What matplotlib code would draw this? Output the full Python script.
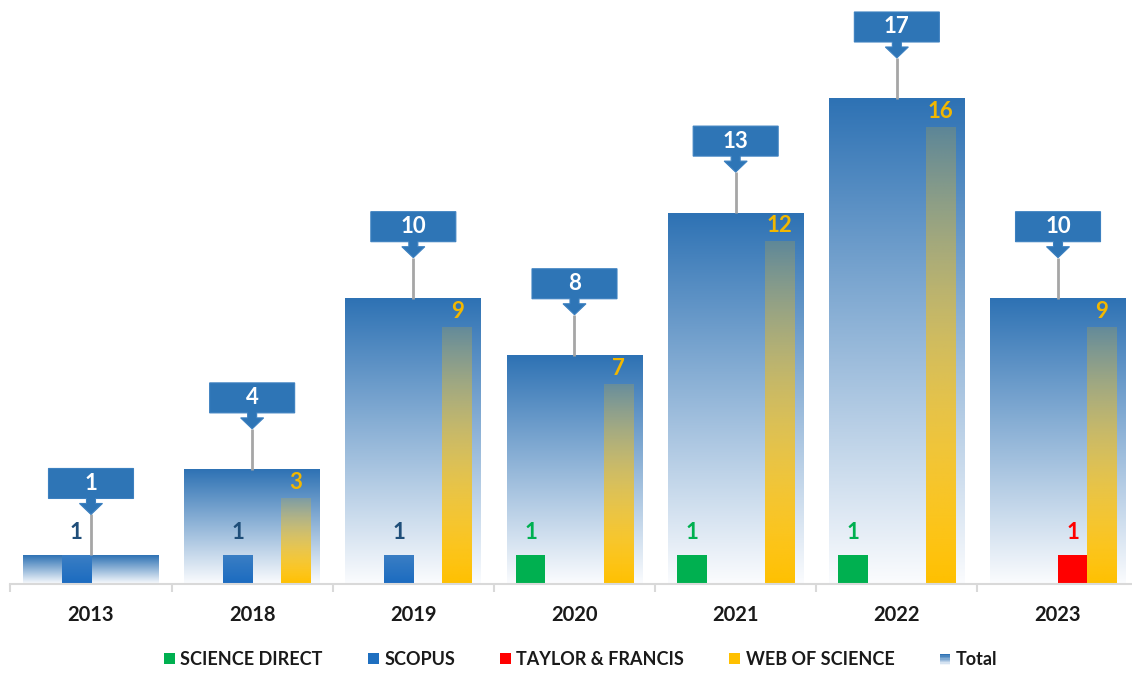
import numpy as np
import matplotlib
matplotlib.use("Agg")
import matplotlib.pyplot as plt
from matplotlib.colors import to_rgba
from matplotlib.patches import Polygon, Rectangle, Patch
from matplotlib.legend_handler import HandlerBase

plt.rcParams["font.family"] = ["Lato", "DejaVu Sans"]

# ---- data ----
years = ["2013", "2018", "2019", "2020", "2021", "2022", "2023"]
science_direct = [0, 0, 0, 1, 1, 1, 0]
scopus = [1, 1, 1, 0, 0, 0, 0]
taylor_francis = [0, 0, 0, 0, 0, 0, 1]
web_of_science = [0, 3, 9, 7, 12, 16, 9]
totals = [1, 4, 10, 8, 13, 17, 10]

# ---- styles ----
BLUE = "#2E75B6"
GREEN = "#00B050"
RED = "#FF0000"
GOLD = "#FFC000"
series = [
    # name, values, slot offset, colour, label colour, label gap (points)
    ("SCIENCE DIRECT", science_direct, -0.272, GREEN, GREEN, 9),
    ("SCOPUS", scopus, -0.091, "#1F6FC0", "#1F4E79", 9),
    ("TAYLOR & FRANCIS", taylor_francis, 0.091, RED, RED, 9),
    ("WEB OF SCIENCE", web_of_science, 0.272, GOLD, "#F2B700", 4),
]
SUB_W = 0.183
TOT_W = 0.842

fig = plt.figure(figsize=(11.32, 6.74), dpi=100)
ax = fig.add_axes([10.4 / 1132, 90 / 674, 1128.2 / 1132, 584 / 674])
PX_Y = 28.53
PX_X = 1128.2 / 7
YMAX = 584 / PX_Y


def gradient_bar(x0, x1, y0, y1, top, bottom, z):
    t = np.linspace(0, 1, 200)[:, None, None]
    img = np.array(top)[None, None, :] * (1 - t) + np.array(bottom)[None, None, :] * t
    ax.imshow(img, extent=(x0, x1, y0, y1), origin="upper", aspect="auto",
              interpolation="bilinear", zorder=z)


# total bars: blue fading to white
for i, tot in enumerate(totals):
    gradient_bar(i - TOT_W / 2, i + TOT_W / 2, 0, tot,
                 to_rgba("#2E72B4"), to_rgba("#FBFCFE"), 1)

# source bars
for name, vals, off, col, lcol, gap in series:
    for i, v in enumerate(vals):
        if v <= 0:
            continue
        x0, x1 = i + off - SUB_W / 2, i + off + SUB_W / 2
        if name == "WEB OF SCIENCE":
            gradient_bar(x0, x1, 0, v, to_rgba(GOLD, 0.18), to_rgba(GOLD, 1.0), 2)
        elif name == "SCOPUS":
            gradient_bar(x0, x1, 0, v, to_rgba("#3A7EC4"), to_rgba("#1B6BC0"), 2)
        else:
            ax.add_patch(Rectangle((x0, 0), SUB_W, v, facecolor=col,
                                   edgecolor="none", zorder=2))
        ax.annotate(str(v), (i + off, v), xytext=(0, gap), textcoords="offset points",
                    ha="center", va="bottom", fontsize=16, fontweight="bold",
                    color=lcol, zorder=4)

# callouts above the total bars
bw, bh = 85 / PX_X, 30 / PX_Y
sw, sh = 9 / PX_X, 5 / PX_Y
hw, hh = 23 / PX_X, 11 / PX_Y
for i, tot in enumerate(totals):
    yb = tot + 57 / PX_Y
    tip = yb - sh - hh
    ax.plot([i, i], [tot, tip], color="#A6A6A6", lw=2, zorder=3,
            solid_capstyle="butt")
    pts = [(i - bw / 2, yb + bh), (i + bw / 2, yb + bh), (i + bw / 2, yb),
           (i + sw / 2, yb), (i + sw / 2, yb - sh), (i + hw / 2, yb - sh),
           (i, tip), (i - hw / 2, yb - sh), (i - sw / 2, yb - sh),
           (i - sw / 2, yb), (i - bw / 2, yb)]
    ax.add_patch(Polygon(pts, closed=True, facecolor=BLUE, edgecolor="#3C80C0",
                         lw=0.8, zorder=4))
    ax.text(i, yb + bh / 2, str(tot), ha="center", va="center", color="white",
            fontsize=16, fontweight="bold", zorder=5)

ax.set_xlim(-0.5, 6.5)
ax.set_ylim(0, YMAX)
for s in ("left", "right", "top"):
    ax.spines[s].set_visible(False)
ax.spines["bottom"].set_color("#D9D9D9")
ax.spines["bottom"].set_linewidth(1.5)
ax.set_yticks([])
ax.set_xticks(range(len(years)))
ax.set_xticklabels(years, fontsize=14.5, fontweight="bold", color="#1A1A1A")
ax.tick_params(axis="x", which="major", length=0, pad=15)
ax.set_xticks(np.arange(-0.5, 7, 1), minor=True)
ax.tick_params(axis="x", which="minor", length=6, width=1.5, color="#D9D9D9")


class GradientHandler(HandlerBase):
    def create_artists(self, legend, orig_handle, xd, yd, width, height, fontsize, trans):
        arts = []
        n = 8
        c0 = np.array(to_rgba("#2E72B4"))
        c1 = np.array(to_rgba("#F2F6FB"))
        for k in range(n):
            t = k / (n - 1)
            r = Rectangle((xd, yd + height * (1 - (k + 1) / n)), width, height / n,
                          facecolor=tuple(c0 * (1 - t) + c1 * t), edgecolor="none",
                          transform=trans)
            arts.append(r)
        return arts


handles = [Patch(facecolor=s[3], edgecolor="none") for s in series]
total_handle = Patch(facecolor=BLUE)
handles.append(total_handle)
labels = [s[0] for s in series] + ["Total"]
fig.legend(handles, labels, loc="center", bbox_to_anchor=(0.513, 0.022),
           ncol=5, frameon=False, prop={"size": 13, "weight": "bold"},
           handlelength=0.6, handleheight=0.6, handletextpad=0.3,
           columnspacing=2.5, labelcolor="#1A1A1A",
           handler_map={total_handle: GradientHandler()})

fig.savefig("out.png", dpi=100)
